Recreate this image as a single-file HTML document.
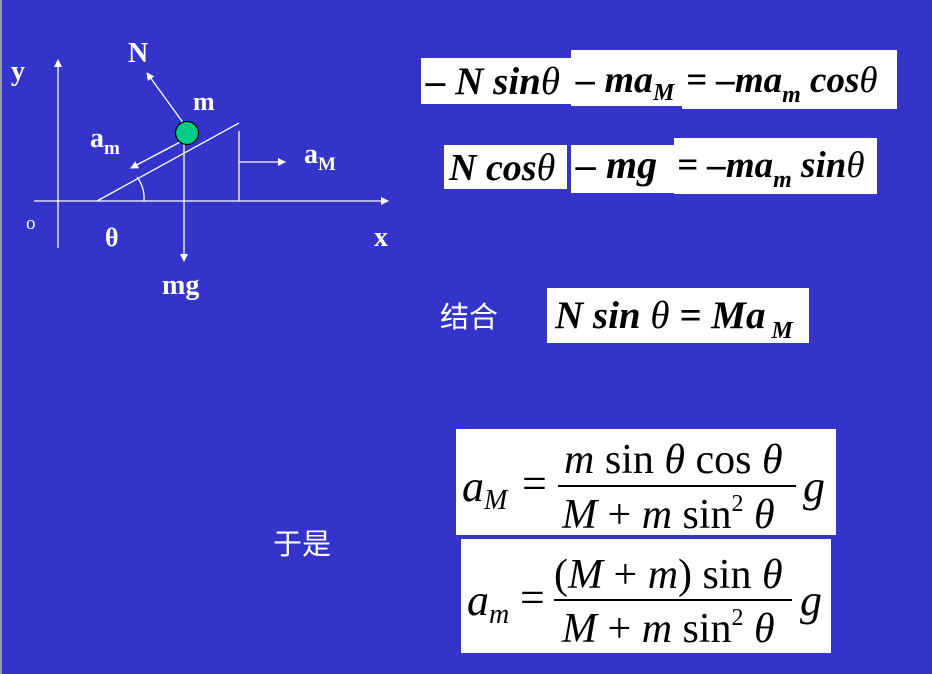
<!DOCTYPE html>
<html><head><meta charset="utf-8"><style>
html,body{margin:0;padding:0;background:#3333cc;}
svg{display:block}
.b{font-family:"Liberation Serif",serif;font-weight:bold;fill:#fff}
.e{font-family:"Liberation Serif",serif;font-weight:bold;font-style:italic;fill:#000}
.r{font-family:"Liberation Serif",serif;fill:#000}
.i{font-family:"Liberation Serif",serif;font-style:italic;fill:#000}
.cjk{font-family:"Liberation Sans","Noto Sans CJK SC",sans-serif;fill:#fff}
</style></head><body>
<svg width="932" height="674" viewBox="0 0 932 674" xmlns="http://www.w3.org/2000/svg">
<rect x="0" y="0" width="932" height="674" fill="#3434cb"/>
<rect x="0" y="0" width="2" height="674" fill="#9a9aa8"/>
<defs><marker id="ah" markerWidth="8" markerHeight="8" refX="7" refY="4" orient="auto" markerUnits="userSpaceOnUse"><path d="M0,0 L8,4 L0,8 z" fill="#fff"/></marker></defs>
<g stroke="#fff" stroke-width="1.3" fill="none">
<line x1="58" y1="248" x2="58" y2="60" marker-end="url(#ah)"/>
<line x1="34" y1="201" x2="388" y2="201" marker-end="url(#ah)"/>
<line x1="97" y1="201" x2="239" y2="123"/>
<line x1="239" y1="131" x2="239" y2="201"/>
<line x1="239" y1="162" x2="285" y2="162" marker-end="url(#ah)"/>
<path d="M137,177 Q145,188 144,201"/>
<line x1="184" y1="124" x2="147" y2="73" marker-end="url(#ah)"/>
<line x1="184" y1="140" x2="184" y2="261" marker-end="url(#ah)"/>
<line x1="184" y1="140" x2="131" y2="168" marker-end="url(#ah)"/>
</g>
<circle cx="187" cy="133" r="11.5" fill="#00cc88" stroke="#000" stroke-width="1.2"/>
<text class="b" x="11" y="80" font-size="28">y</text>
<text class="b" x="128" y="62" font-size="28">N</text>
<text class="b" x="193" y="110" font-size="26">m</text>
<text class="b" x="90" y="147" font-size="28">a<tspan font-size="19" dy="7">m</tspan></text>
<text class="b" x="304" y="163" font-size="28">a<tspan font-size="19" dy="7">M</tspan></text>
<text x="26" y="229" font-size="19" font-family="Liberation Serif,serif" fill="#fff">o</text>
<text class="b" x="105" y="246" font-size="26">θ</text>
<text class="b" x="374" y="246" font-size="28">x</text>
<text class="b" x="162" y="294" font-size="28">mg</text>

<g>
<rect x="421" y="58" width="150" height="46" fill="#fff"/>
<rect x="571" y="50" width="111" height="56" fill="#fff"/>
<rect x="682" y="50" width="215" height="59" fill="#fff"/>
<text class="e" x="426" y="94" font-size="39">– N sin<tspan font-weight="normal">θ</tspan></text>
<text class="e" x="576" y="92" font-size="38">– ma<tspan font-size="24" dy="8">M</tspan></text>
<text class="e" x="686" y="92" font-size="37">= –ma<tspan font-size="24" dy="10">m</tspan><tspan dy="-10"> cos</tspan><tspan font-weight="normal">θ</tspan></text>
</g>
<g>
<rect x="444" y="145" width="123" height="44" fill="#fff"/>
<rect x="571" y="145" width="103" height="48" fill="#fff"/>
<rect x="674" y="138" width="203" height="56" fill="#fff"/>
<text class="e" x="449" y="180" font-size="38">N cos<tspan font-weight="normal">θ</tspan></text>
<text class="e" x="576" y="178" font-size="40">– mg</text>
<text class="e" x="677" y="177" font-size="37">= –ma<tspan font-size="24" dy="10">m</tspan><tspan dy="-10"> sin</tspan><tspan font-weight="normal">θ</tspan></text>
</g>
<text class="cjk" x="440" y="327" font-size="29">结合</text>
<g>
<rect x="547" y="288" width="262" height="55" fill="#fff"/>
<text class="e" x="555" y="328" font-size="39">N sin<tspan font-weight="normal"> θ</tspan> = Ma<tspan font-size="24" dy="10"> M</tspan></text>
</g>
<text class="cjk" x="273" y="554" font-size="29">于是</text>
<g>
<rect x="456" y="429" width="380" height="106" fill="#fff"/>
<text class="i" x="462" y="501" font-size="44">a<tspan font-size="28" dy="8">M</tspan></text>
<text class="r" x="522" y="498" font-size="44">=</text>
<text class="r" x="564" y="473" font-size="42"><tspan font-style="italic">m</tspan> sin <tspan font-style="italic">θ</tspan> cos <tspan font-style="italic">θ</tspan></text>
<line x1="558" y1="486" x2="796" y2="486" stroke="#000" stroke-width="2"/>
<text class="r" x="562" y="528" font-size="42"><tspan font-style="italic">M</tspan> + <tspan font-style="italic">m</tspan> sin<tspan font-size="24" dy="-17">2</tspan><tspan dy="17"> </tspan><tspan font-style="italic">θ</tspan></text>
<text class="i" x="803" y="501" font-size="44">g</text>
</g>
<g>
<rect x="461" y="539" width="370" height="114" fill="#fff"/>
<text class="i" x="467" y="615" font-size="44">a<tspan font-size="28" dy="8">m</tspan></text>
<text class="r" x="520" y="612" font-size="44">=</text>
<text class="r" x="554" y="588" font-size="42">(<tspan font-style="italic">M</tspan> + <tspan font-style="italic">m</tspan>) sin <tspan font-style="italic">θ</tspan></text>
<line x1="554" y1="600" x2="792" y2="600" stroke="#000" stroke-width="2"/>
<text class="r" x="562" y="642" font-size="42"><tspan font-style="italic">M</tspan> + <tspan font-style="italic">m</tspan> sin<tspan font-size="24" dy="-17">2</tspan><tspan dy="17"> </tspan><tspan font-style="italic">θ</tspan></text>
<text class="i" x="800" y="615" font-size="44">g</text>
</g>
</svg>
</body></html>
